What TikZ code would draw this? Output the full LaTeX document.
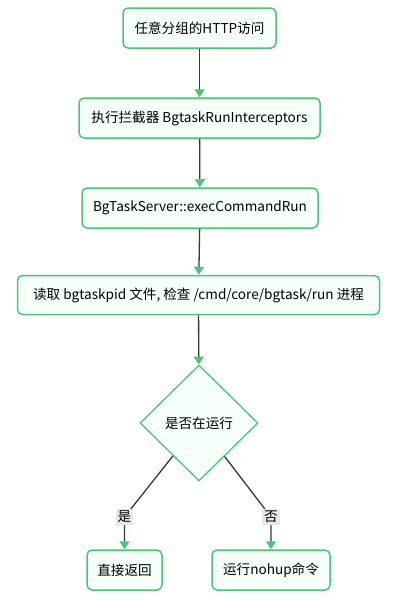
\documentclass[tikz,border=0pt]{standalone}
\usepackage{fontspec}
\setmainfont{Noto Sans CJK SC}
\usetikzlibrary{shapes.geometric,arrows.meta}
\definecolor{bd}{RGB}{76,196,120}
\definecolor{bg}{RGB}{246,255,250}
\definecolor{ln}{RGB}{55,55,55}
\definecolor{lb}{RGB}{232,232,232}
\begin{document}
\begin{tikzpicture}[x=1pt,y=-1pt,
  font=\fontsize{13.6}{16}\selectfont,
  box/.style={draw=bd, fill=bg, line width=1.5pt, rounded corners=5pt,
    minimum height=40pt, inner sep=0pt, align=center},
  dec/.style={diamond, draw=bd, fill=bg, line width=1.3pt, inner sep=0pt,
    minimum width=118pt, minimum height=116pt},
  conn/.style={draw=ln, line width=1.3pt,
    -{Triangle[length=8pt,width=10pt,color=bd]}},
  lab/.style={fill=lb, inner xsep=2pt, inner ysep=2.5pt}]
\useasboundingbox (0,0) rectangle (400,600);
\node[box, minimum width=153pt] (b1) at (199.5,28) {任意分组的HTTP访问};
\node[box, minimum width=241pt] (b2) at (199.5,118) {执行拦截器 BgtaskRunInterceptors};
\node[box, minimum width=236pt] (b3) at (200,208) {BgTaskServer::execCommandRun};
\node[box, minimum width=362pt, minimum height=39pt] (b4) at (198.5,295) {读取 bgtaskpid 文件, 检查 /cmd/core/bgtask/run 进程};
\node[dec] (dia) at (199,423) {是否在运行};
\node[box, minimum width=75pt] (b5) at (124.5,570) {直接返回};
\node[box, minimum width=118pt] (b6) at (271,570) {运行nohup命令};
\coordinate (c1) at (124.5,517);
\coordinate (c2) at (271,517);
\draw[conn] (b1) -- (b2);
\draw[conn] (b2) -- (b3);
\draw[conn] (b3) -- (b4);
\draw[conn] (b4) -- (dia);
\draw[conn] (dia) -- (c1) -- (b5.north);
\draw[conn] (dia) -- (c2) -- (b6.north);
\node[lab] (l1) at (c1) {是};
\node[lab] (l2) at (c2) {否};
\end{tikzpicture}
\end{document}
